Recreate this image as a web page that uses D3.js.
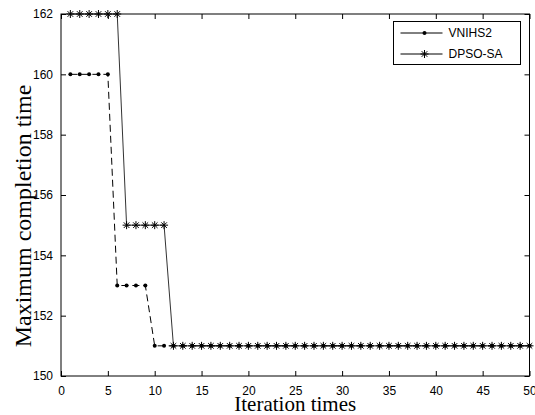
<!DOCTYPE html>
<html>
<head>
<meta charset="utf-8">
<script src="https://cdn.jsdelivr.net/npm/d3@7"></script>
<style>
  body { margin: 0; background: #fff; }
  svg { display: block; }
</style>
</head>
<body>
<svg width="535" height="415"></svg>
<script>
"use strict";

var iterations = [1,2,3,4,5,6,7,8,9,10,11,12,13,14,15,16,17,18,19,20,21,22,23,24,25,
  26,27,28,29,30,31,32,33,34,35,36,37,38,39,40,41,42,43,44,45,46,47,48,49,50];
var vnihs2 = [160,160,160,160,160,153,153,153,153,151,151,151,151,151,151,151,151,151,151,151,
  151,151,151,151,151,151,151,151,151,151,151,151,151,151,151,151,151,151,151,151,
  151,151,151,151,151,151,151,151,151,151];
var dpsoSa = [162,162,162,162,162,162,155,155,155,155,155,151,151,151,151,151,151,151,151,151,
  151,151,151,151,151,151,151,151,151,151,151,151,151,151,151,151,151,151,151,151,
  151,151,151,151,151,151,151,151,151,151];
var xTicks = [0,5,10,15,20,25,30,35,40,45,50];
var yTicks = [150,152,154,156,158,160,162];
var seriesNames = ["VNIHS2", "DPSO-SA"];

(function() {
var svg = d3.select("svg"),
  margin = {top: 14, right: 5, bottom: 39, left: 61},
  width = 535 - margin.left - margin.right,
  height = 415 - margin.top - margin.bottom,
  g = svg.append("g").attr("transform", "translate(" + margin.left + "," + margin.top + ")"),
  x = d3.scaleLinear().domain([0, 50]).range([0, width - 0.5]),
  y = d3.scaleLinear().domain([150, 162]).range([height, 0]);

var tickFont = "'Liberation Sans', Arial, sans-serif";
var titleFont = "'Liberation Serif', 'Times New Roman', serif";

// box
g.append("rect")
  .attr("x", 0).attr("y", 0)
  .attr("width", x(50)).attr("height", height)
  .attr("fill", "none").attr("stroke", "#000").attr("stroke-width", 1);

// axes (ticks pointing inward, on all four sides)
var axBottom = g.append("g")
  .attr("transform", "translate(0," + height + ")")
  .call(d3.axisBottom(x).tickValues(xTicks).tickSize(-5).tickPadding(10));
var axLeft = g.append("g")
  .call(d3.axisLeft(y).tickValues(yTicks).tickSize(-5).tickPadding(8));
var axTop = g.append("g")
  .call(d3.axisTop(x).tickValues(xTicks).tickSize(-5).tickFormat(""));
var axRight = g.append("g")
  .attr("transform", "translate(" + x(50) + ",0)")
  .call(d3.axisRight(y).tickValues(yTicks).tickSize(-5).tickFormat(""));

[axBottom, axLeft, axTop, axRight].forEach(function(a) {
  a.select(".domain").remove();
  a.selectAll("line").attr("stroke", "#000");
  a.selectAll("text").attr("fill", "#000")
    .style("font-family", tickFont).style("font-size", "12px");
});

// lines
var line = d3.line()
  .x(function(d, i) { return x(iterations[i]); })
  .y(function(d) { return y(d); });

g.append("path")
  .datum(dpsoSa)
  .attr("fill", "none")
  .attr("stroke", "#333")
  .attr("stroke-width", 1)
  .attr("d", line);

g.append("path")
  .datum(vnihs2)
  .attr("fill", "none")
  .attr("stroke", "#000")
  .attr("stroke-width", 1)
  .attr("stroke-dasharray", "7,4")
  .attr("d", line);

// markers
function star(sel, s) {
  sel.append("path")
    .attr("d", "M" + (-s) + ",0H" + s + "M0," + (-s) + "V" + s +
      "M" + (-s * 0.7) + "," + (-s * 0.7) + "L" + (s * 0.7) + "," + (s * 0.7) +
      "M" + (-s * 0.7) + "," + (s * 0.7) + "L" + (s * 0.7) + "," + (-s * 0.7))
    .attr("stroke", "#000").attr("stroke-width", 1).attr("fill", "none");
}

g.append("g").selectAll("g")
  .data(dpsoSa)
  .join("g")
  .attr("transform", function(d, i) { return "translate(" + x(iterations[i]) + "," + y(d) + ")"; })
  .each(function() { star(d3.select(this), 4); });

g.append("g").selectAll("circle")
  .data(vnihs2)
  .join("circle")
  .attr("cx", function(d, i) { return x(iterations[i]); })
  .attr("cy", function(d) { return y(d); })
  .attr("r", 2)
  .attr("fill", "#000");

// legend
var lg = svg.append("g").attr("transform", "translate(393.5,21.5)");
lg.append("rect")
  .attr("width", 127).attr("height", 43)
  .attr("fill", "#fff").attr("stroke", "#000").attr("stroke-width", 1);
seriesNames.forEach(function(name, i) {
  var row = lg.append("g").attr("transform", "translate(0," + (11.5 + i * 21) + ")");
  row.append("line")
    .attr("x1", 7).attr("x2", 49)
    .attr("stroke", "#000").attr("stroke-width", 1);
  var m = row.append("g").attr("transform", "translate(31,0)");
  if (i === 0) {
    m.append("circle").attr("r", 2).attr("fill", "#000");
  } else {
    star(m, 4);
  }
  row.append("text")
    .attr("x", 55).attr("dy", "0.35em")
    .style("font-family", tickFont).style("font-size", "12px")
    .text(name);
});

// axis titles
svg.append("text")
  .attr("x", margin.left + x(50) / 2)
  .attr("y", 411)
  .attr("text-anchor", "middle")
  .style("font-family", titleFont)
  .style("font-size", "21px")
  .text("Iteration times");

svg.append("text")
  .attr("transform", "translate(31,216) rotate(-90)")
  .attr("text-anchor", "middle")
  .style("font-family", titleFont)
  .style("font-size", "24px")
  .text("Maximum completion time");
})();
</script>
</body>
</html>
